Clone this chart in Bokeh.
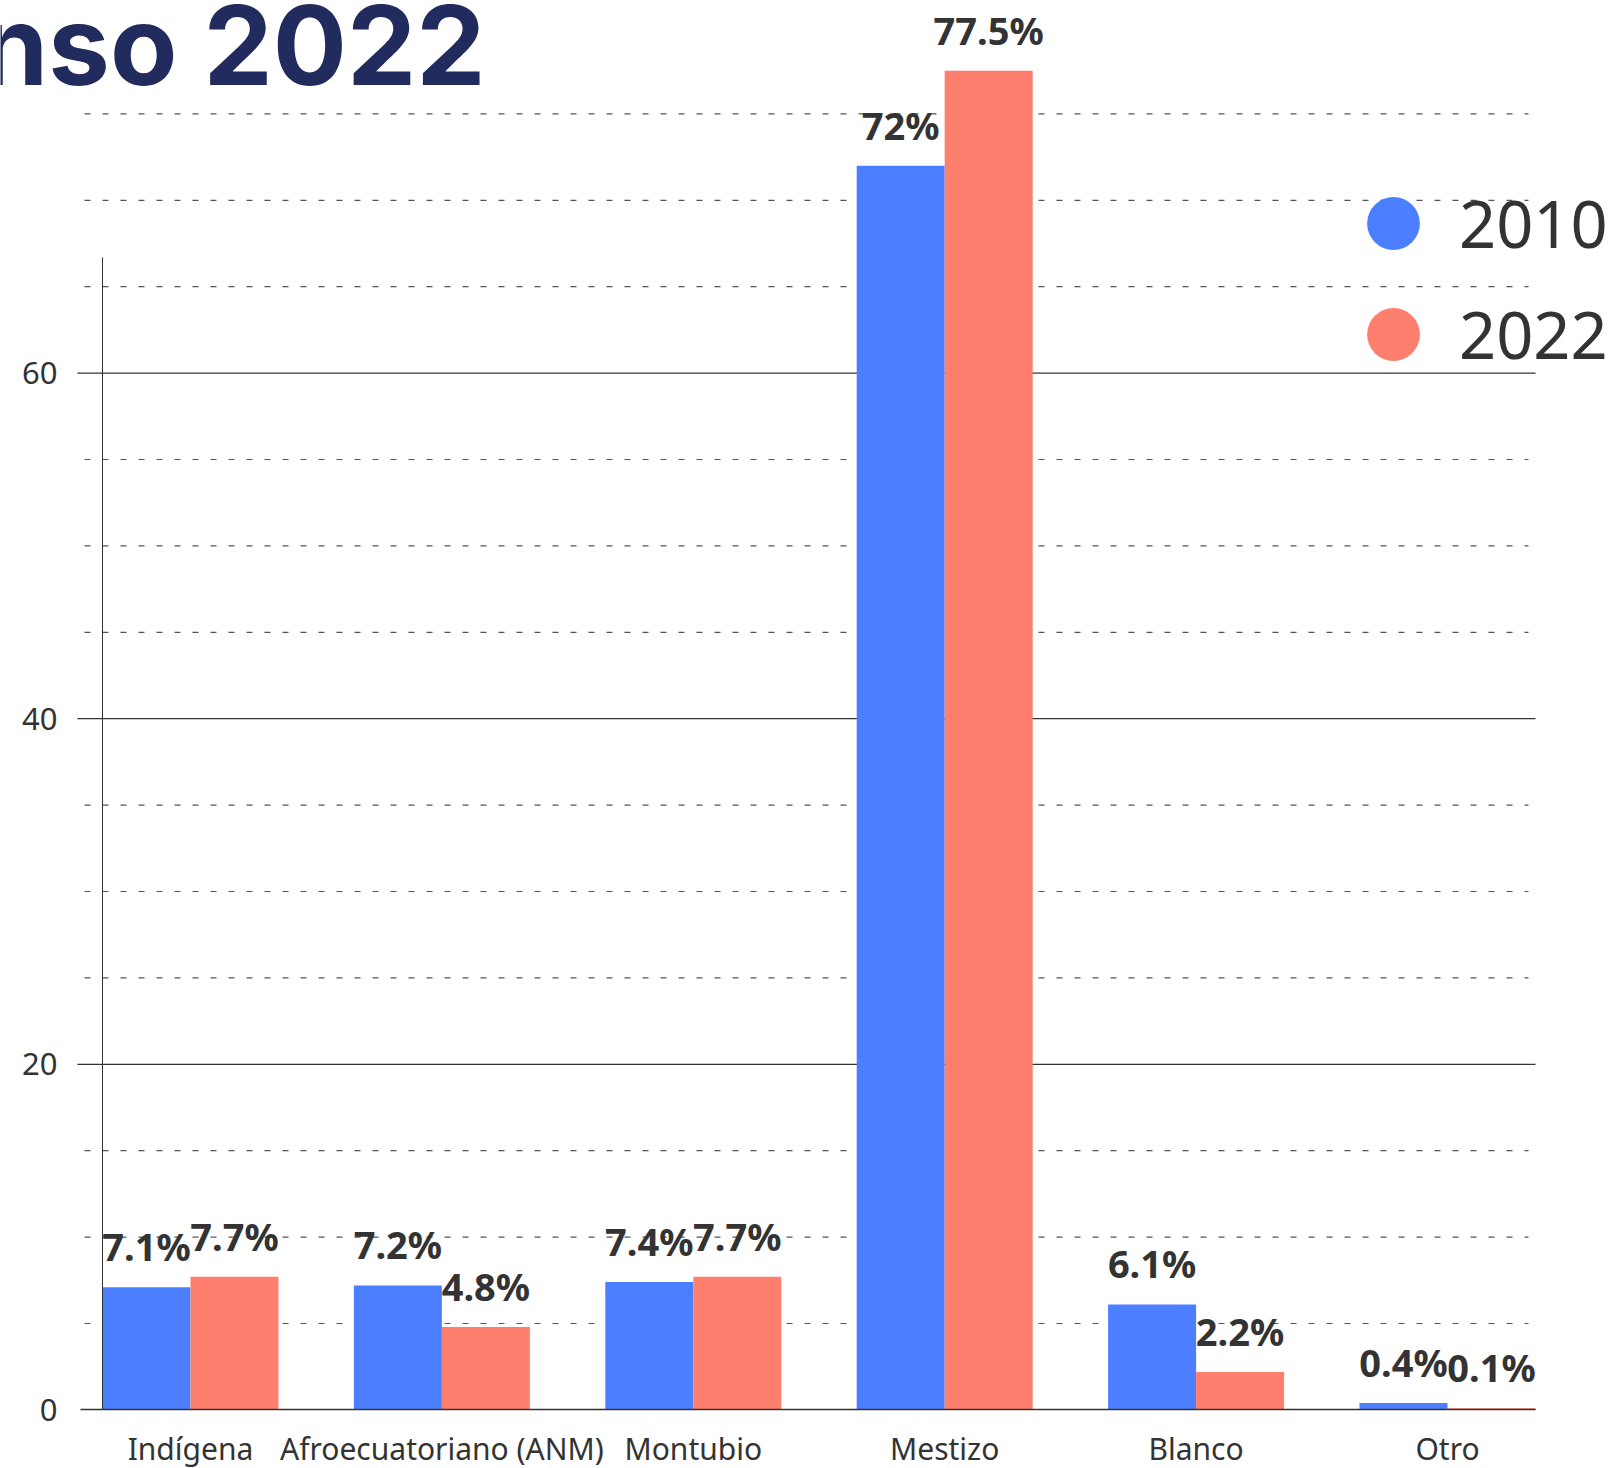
import numpy as np
from bokeh.plotting import figure
from bokeh.models import (Range1d, FixedTicker, SingleIntervalTicker, Label,
                          Legend, LegendItem, ColumnDataSource)
from bokeh.core.properties import value
from bokeh.embed import file_html
from bokeh.resources import INLINE

# ---- data ----
categories = ["Indígena", "Afroecuatoriano (ANM)", "Montubio", "Mestizo", "Blanco", "Otro"]
v2010 = [7.1, 7.2, 7.4, 72.0, 6.1, 0.4]
v2022 = [7.7, 4.8, 7.7, 77.5, 2.2, 0.1]
series_names = ["2010", "2022"]
y_major_ticks = [20, 40, 60]
y_minor_ticks = [5, 10, 15, 25, 30, 35, 45, 50, 55, 65, 70, 75]
title_text = "nso 2022"

BLUE = "#4c7fff"
RED = "#ff7f6f"
TXT = "#333333"
FONT = "Noto Sans"

# ---- layout constants (pixels) ----
W, H = 1619, 1468
PXX = 251.4          # px per category
PXY = 17.28          # px per percentage point
X0 = 102             # left edge of the bar area
Y0 = 1409.4          # zero line
bw = 0.35
n = len(categories)
pos = np.arange(n, dtype=float)

x_start = -bw - X0 / PXX
y_start = -(H - Y0) / PXY
p = figure(width=W, height=H,
           x_range=Range1d(x_start, x_start + W / PXX),
           y_range=Range1d(y_start, y_start + H / PXY),
           output_backend="svg", toolbar_location=None,
           min_border=0, outline_line_color=None)
p.xgrid.visible = False
p.ygrid.visible = False

left = -bw
right = n - 1 + bw

# grid lines (drawn below the bars)
p.segment(x0=left - 25 / PXX, x1=right, y0=y_major_ticks, y1=y_major_ticks,
          line_color="#333333", line_width=1.2)
p.segment(x0=left - 18 / PXX, x1=right - 7 / PXX, y0=y_minor_ticks, y1=y_minor_ticks,
          line_color="#555555", line_width=1.2, line_dash="6 12")

src = ColumnDataSource(dict(
    x1=pos - bw / 2, x2=pos + bw / 2, a=v2010, b=v2022,
    la=[f"{v:g}%" for v in v2010], lb=[f"{v:g}%" for v in v2022]))

p.vbar(x="x1", top="a", width=bw, source=src, fill_color=BLUE, line_color=None)
p.vbar(x="x2", top="b", width=bw, source=src, fill_color=RED, line_color=None)

for xcol, ycol, tcol in (("x1", "a", "la"), ("x2", "b", "lb")):
    p.text(x=xcol, y=ycol, text=tcol, source=src, y_offset=-41,
           text_align="center", text_baseline="middle",
           text_font=value(FONT), text_font_style="bold",
           text_font_size="38px", text_color=TXT)

# legend renderers (not visible in the plot: size 0)
r1 = p.scatter(x="x1", y="a", source=src, size=0, marker="circle",
               fill_color=BLUE, line_color=None)
r2 = p.scatter(x="x2", y="b", source=src, size=0, marker="circle",
               fill_color=RED, line_color=None)
for r, lab, cy in ((r1, series_names[0], 223), (r2, series_names[1], 334)):
    lg = Legend(items=[LegendItem(label=lab, renderers=[r])],
                location=(1327, H - (cy + 66)), glyph_width=132, glyph_height=132,
                spacing=0, label_standoff=0, padding=0, margin=0,
                border_line_color=None, background_fill_alpha=0,
                label_text_font=FONT, label_text_font_size="65px",
                label_text_color=TXT)
    p.add_layout(lg)

# axes
p.yaxis.fixed_location = left
p.yaxis.ticker = SingleIntervalTicker(interval=20, num_minor_ticks=0)
p.yaxis.bounds = (0, 66.7)
p.yaxis.major_tick_out = 0
p.yaxis.major_tick_in = 0
p.yaxis.minor_tick_line_color = None
p.yaxis.major_label_standoff = 45
p.yaxis.axis_line_color = TXT
p.yaxis.major_label_text_font = FONT
p.yaxis.major_label_text_font_size = "31px"
p.yaxis.major_label_text_color = TXT

p.xaxis.fixed_location = 0
p.xaxis.bounds = (left - 22 / PXX, right)
p.xaxis.ticker = FixedTicker(ticks=list(pos))
p.xaxis.major_label_overrides = {int(i): c for i, c in enumerate(categories)}
p.xaxis.major_tick_out = 0
p.xaxis.major_tick_in = 0
p.xaxis.minor_tick_line_color = None
p.xaxis.major_label_standoff = 18
p.xaxis.axis_line_color = TXT
p.xaxis.axis_line_width = 1.5
p.xaxis.major_label_text_font = FONT
p.xaxis.major_label_text_font_size = "30px"
p.xaxis.major_label_text_color = TXT

p.add_layout(Label(x=485, y=H - 44, x_units="screen", y_units="screen",
                   text=title_text, text_font="Inter", text_font_style="bold",
                   text_font_size="110px", text_color="#212b5e",
                   text_baseline="alphabetic", text_align="right"))

open("out.html", "w").write(file_html(p, INLINE))
